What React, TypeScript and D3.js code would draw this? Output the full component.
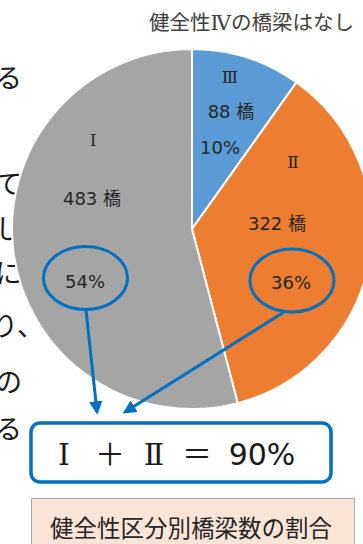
import React, { useEffect, useRef } from 'react';
import * as d3 from 'd3';

// 健全性区分別橋梁数 (clockwise from 12 o'clock)
const categories = ['Ⅲ', 'Ⅱ', 'Ⅰ'];
const counts = [88, 322, 483];
const percentLabels = ['10%', '36%', '54%'];
const colors = ['#5B9BD5', '#ED7D31', '#A5A5A5'];

const titleParts = ['健全性', 'Ⅳ', 'の橋梁はなし'];
const sumTokens = ['Ⅰ', '＋', 'Ⅱ', '＝', '90%'];
const caption = '健全性区分別橋梁数の割合';
// cut-off body text on the left edge
const sideChars = ['る', 'て', 'し', 'に', 'り、', 'の', 'る'];
const sideY = [88, 194, 239, 283, 336, 392, 439];

const W = 363;
const H = 544;
const FONT = '"Noto Sans CJK JP", "Noto Sans", sans-serif';
const LATIN = '"DejaVu Sans", "Noto Sans CJK JP", sans-serif';
const ROMAN = '"DejaVu Serif", "Noto Sans CJK JP", serif';

const isRoman = (s: string) => /[Ⅰ-Ⅻ]/.test(s);

// label placement per slice (Ⅲ, Ⅱ, Ⅰ)
const labelPos = [
  { x: 230, cat: 83, cntX: 231, cnt: 118, pctX: 220, pct: 154 },
  { x: 293, cat: 168, cntX: 277, cnt: 230, pctX: 291, pct: 289 },
  { x: 93, cat: 146, cntX: 92, cnt: 205, pctX: 85, pct: 288 },
];
const sumX = [64, 110, 154, 197, 262];

const App: React.FC = () => {
  const ref = useRef<SVGSVGElement>(null);

  useEffect(() => {
    if (!ref.current) return;
    const svg = d3.select(ref.current);
    svg.selectAll('*').remove();

    const cx = 192;
    const cy = 229;
    const r = 180;

    const pie = d3
      .pie<number>()
      .sort(null)
      .value((d) => d);
    const arc = d3.arc<d3.PieArcDatum<number>>().innerRadius(0).outerRadius(r);
    const arcs = pie(counts);

    // side text
    svg
      .selectAll('text.side')
      .data(sideChars)
      .enter()
      .append('text')
      .attr('class', 'side')
      .attr('x', (d) => (d.length > 1 ? 44 : 22))
      .attr('y', (d, i) => sideY[i])
      .attr('text-anchor', 'end')
      .attr('font-family', FONT)
      .attr('font-size', 27)
      .attr('fill', '#1a1a1a')
      .text((d) => d);

    const g = svg.append('g').attr('transform', `translate(${cx},${cy})`);
    g.selectAll('path')
      .data(arcs)
      .enter()
      .append('path')
      .attr('d', arc)
      .attr('fill', (d, i) => colors[i])
      .attr('stroke', '#fff')
      .attr('stroke-width', 2);

    // title
    const title = svg
      .append('text')
      .attr('x', 354)
      .attr('y', 30)
      .attr('text-anchor', 'end')
      .attr('font-family', FONT)
      .attr('font-size', 20.5)
      .attr('fill', '#404040');
    titleParts.forEach((s) => {
      title
        .append('tspan')
        .attr('font-family', isRoman(s) ? ROMAN : FONT)
        .text(s);
    });

    // slice labels
    const t = (x: number, y: number, s: string, size: number) =>
      svg
        .append('text')
        .attr('x', x)
        .attr('y', y)
        .attr('text-anchor', 'middle')
        .attr('font-family', isRoman(s) ? ROMAN : LATIN)
        .attr('font-size', size)
        .attr('fill', '#262626')
        .text(s);
    categories.forEach((c, i) => {
      const p = labelPos[i];
      t(p.x, p.cat, c, 17);
      t(p.cntX, p.cnt, `${counts[i]} 橋`, 18);
      t(p.pctX, p.pct, percentLabels[i], 18);
    });

    const blue = '#0070C0';
    // ellipses around Ⅰ and Ⅱ percentages
    const rings = [
      { x: 85.5, y: 278 },
      { x: 292, y: 280.5 },
    ];
    svg
      .selectAll('ellipse.ring')
      .data(rings)
      .enter()
      .append('ellipse')
      .attr('cx', (d) => d.x)
      .attr('cy', (d) => d.y)
      .attr('rx', 42)
      .attr('ry', 31.5)
      .attr('fill', 'none')
      .attr('stroke', blue)
      .attr('stroke-width', 3);

    // arrows
    const defs = svg.append('defs');
    defs
      .append('marker')
      .attr('id', 'ah')
      .attr('viewBox', '0 0 10 10')
      .attr('refX', 8)
      .attr('refY', 5)
      .attr('markerWidth', 4.5)
      .attr('markerHeight', 4.5)
      .attr('orient', 'auto')
      .append('path')
      .attr('d', 'M0,0 L10,5 L0,10 Z')
      .attr('fill', blue);
    const arrows = [
      { x1: 86, y1: 310, x2: 97, y2: 412 },
      { x1: 284, y1: 312, x2: 125, y2: 412 },
    ];
    svg
      .selectAll('line.arrow')
      .data(arrows)
      .enter()
      .append('line')
      .attr('x1', (d) => d.x1)
      .attr('y1', (d) => d.y1)
      .attr('x2', (d) => d.x2)
      .attr('y2', (d) => d.y2)
      .attr('stroke', blue)
      .attr('stroke-width', 3)
      .attr('marker-end', 'url(#ah)');

    // sum box
    svg
      .append('rect')
      .attr('x', 31)
      .attr('y', 423)
      .attr('width', 300)
      .attr('height', 59)
      .attr('rx', 9)
      .attr('fill', '#fff')
      .attr('stroke', blue)
      .attr('stroke-width', 3.5);
    svg
      .selectAll('text.sum')
      .data(sumTokens)
      .enter()
      .append('text')
      .attr('class', 'sum')
      .attr('x', (d, i) => sumX[i])
      .attr('y', 465)
      .attr('text-anchor', 'middle')
      .attr('font-family', (d) => (isRoman(d) ? ROMAN : LATIN))
      .attr('font-size', 30)
      .attr('fill', '#1a1a1a')
      .text((d) => d);

    // caption
    svg
      .append('rect')
      .attr('x', 31.5)
      .attr('y', 498.5)
      .attr('width', 323)
      .attr('height', 60)
      .attr('fill', '#FBE5D6')
      .attr('stroke', '#A6A6A6')
      .attr('stroke-width', 1);
    svg
      .append('text')
      .attr('x', 191)
      .attr('y', 537)
      .attr('text-anchor', 'middle')
      .attr('font-family', FONT)
      .attr('font-size', 23.5)
      .attr('fill', '#262626')
      .text(caption);
  }, []);

  return (
    <svg
      ref={ref}
      width={W}
      height={H}
      style={{ position: 'absolute', left: 0, top: 0, background: '#fff' }}
    />
  );
};

export default App;
